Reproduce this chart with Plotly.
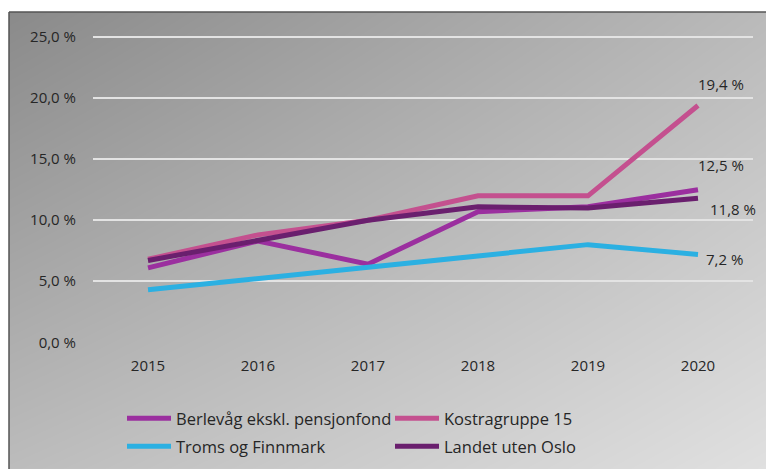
import plotly.graph_objects as go

years = ["2015", "2016", "2017", "2018", "2019", "2020"]
berlevag = [6.1, 8.3, 6.4, 10.7, 11.1, 12.5]
kostra = [6.8, 8.8, 10.0, 12.0, 12.0, 19.4]
troms = [4.3, 5.2, 6.1, 7.1, 8.0, 7.2]
landet = [6.7, 8.4, 10.0, 11.1, 11.0, 11.8]
y_ticks = [0, 5, 10, 15, 20, 25]
y_ticktext = ["0,0 %", "5,0 %", "10,0 %", "15,0 %", "20,0 %", "25,0 %"]

names = ["Berlevåg ekskl. pensjonfond", "Kostragruppe 15", "Troms og Finnmark", "Landet uten Oslo"]
colors = ["#9B2F9F", "#C4508F", "#2BB0E2", "#6A1F6E"]
series = [berlevag, kostra, troms, landet]
legends = ["legend", "legend", "legend2", "legend2"]
label_shift = [(-2, 24), (-2, 21), (6, -5), (10, -11)]

# background gradient corner grays (style only)
bg_z = [[188, 224], [138, 186]]

W, H = 766, 478
K = H / 470.0
FONT = "Open Sans, Lato, sans-serif"
TXT = "#262626"


def py(px):
    """paper fraction for a reference pixel row measured from the top"""
    return 1 - px * K / H


fig = go.Figure()
fig.add_trace(go.Heatmap(z=bg_z, x=[0, 1], y=[0, 1], zsmooth="best",
                         colorscale=[[0, "rgb(0,0,0)"], [1, "rgb(255,255,255)"]],
                         zmin=0, zmax=255, showscale=False, hoverinfo="skip",
                         xaxis="x", yaxis="y"))

for name, vals, col, lg in zip(names, series, colors, legends):
    fig.add_trace(go.Scatter(x=years, y=vals, name=name, mode="lines",
                             line=dict(color=col, width=5), xaxis="x2", yaxis="y2",
                             legend=lg))

last = len(years) - 1
for vals, (dx, dy) in zip(series, label_shift):
    txt = f"{vals[-1]:.1f}".replace(".", ",") + " %"
    fig.add_annotation(x=last, y=vals[-1], xref="x2", yref="y2", text=txt,
                       showarrow=False, xanchor="left", yanchor="middle",
                       xshift=dx, yshift=dy * K, font=dict(size=15, color=TXT, family=FONT))

fig.add_shape(type="line", xref="paper", yref="paper", x0=9/W, x1=9/W, y0=0, y1=py(12),
              line=dict(color="#555555", width=1.5))
fig.add_shape(type="line", xref="paper", yref="paper", x0=9/W, x1=1, y0=py(12), y1=py(12),
              line=dict(color="#555555", width=1.5))

fig.update_layout(
    width=W, height=H,
    margin=dict(l=0, r=0, t=0, b=0),
    paper_bgcolor="white", plot_bgcolor="rgba(0,0,0,0)",
    font=dict(family=FONT, size=15, color=TXT),
    xaxis=dict(domain=[9/W, 1], range=[0, 1], visible=False, fixedrange=True),
    yaxis=dict(domain=[0, py(12)], range=[0, 1], visible=False, fixedrange=True),
    xaxis2=dict(domain=[93/W, 753/W], anchor="y2", type="category", range=[-0.5, 5.5],
                showgrid=False, showline=False, zeroline=False, ticks="",
                ticklabelstandoff=13, tickfont=dict(size=15, color=TXT)),
    yaxis2=dict(domain=[py(343), py(25)], anchor="x2", range=[0, 26],
                tickmode="array", tickvals=y_ticks, ticktext=y_ticktext, showgrid=True,
                gridcolor="#e3e3e3", gridwidth=1.5, zeroline=False, showline=False,
                ticks="", ticklabelstandoff=16, tickfont=dict(size=15, color=TXT)),
    showlegend=True,
    legend=dict(orientation="h", x=122/W, y=py(402), xanchor="left", yanchor="top",
                entrywidth=209, entrywidthmode="pixels", bgcolor="rgba(0,0,0,0)",
                font=dict(size=16.5, color=TXT, family=FONT), itemwidth=44),
    legend2=dict(orientation="h", x=122/W, y=py(430), xanchor="left", yanchor="top",
                 entrywidth=209, entrywidthmode="pixels", bgcolor="rgba(0,0,0,0)",
                 font=dict(size=16.5, color=TXT, family=FONT), itemwidth=44),
)

fig.write_html("out.html", config={"displayModeBar": False},
               post_script=("document.documentElement.style.margin='0';"
                            "document.documentElement.style.overflow='hidden';"
                            "document.body.style.margin='0';"
                            "document.body.style.overflow='hidden';"))
